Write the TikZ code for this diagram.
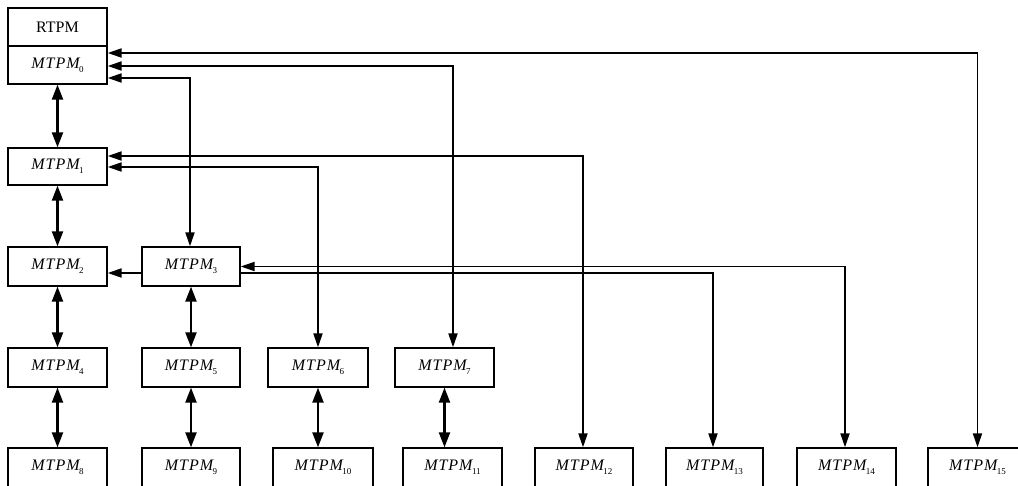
\documentclass[tikz,border=0pt]{standalone}
\usepackage{fontspec}
\setmainfont{Liberation Serif}
\usetikzlibrary{arrows.meta,backgrounds}
\newcommand\mtpm[1]{{\itshape\addfontfeature{LetterSpace=6}MTPM}\kern-0.5pt\raisebox{-0.5ex}{\fontsize{9}{10}\selectfont #1}}
\begin{document}
\begin{tikzpicture}[x=1pt,y=1pt,
  pbox/.style={draw, line width=1.3pt, fill=white, minimum width=99pt, minimum height=38pt, inner sep=0pt, font=\fontsize{16}{19}\selectfont},
  conn/.style={line width=1.9pt, {Triangle[length=14pt,width=9pt]}-{Triangle[length=14pt,width=9pt]}},
  vconn/.style={line width=2.2pt, {Triangle[length=15pt,width=11pt]}-{Triangle[length=15pt,width=11pt]}}]
\useasboundingbox (0,0) rectangle (1018,-486);
% row 0
\node[pbox] (r) at (57.5,-27) {RTPM};
\node[pbox] (m0) at (57.5,-65) {\mtpm{0}};
% row 1
\node[pbox, minimum height=37pt] (m1) at (57.5,-166.5) {\mtpm{1}};
% row 2
\node[pbox, minimum height=39pt] (m2) at (57.5,-266.5) {\mtpm{2}};
\node[pbox, minimum height=39pt, minimum width=98pt] (m3) at (191,-266.5) {\mtpm{3}};
% row 3
\node[pbox, minimum height=39pt] (m4) at (57.5,-367.5) {\mtpm{4}};
\node[pbox, minimum height=39pt, minimum width=98pt] (m5) at (191,-367.5) {\mtpm{5}};
\node[pbox, minimum height=39pt, minimum width=100pt] (m6) at (318,-367.5) {\mtpm{6}};
\node[pbox, minimum height=39pt] (m7) at (444.5,-367.5) {\mtpm{7}};
% row 4
\node[pbox, minimum height=39pt] (m8) at (57.5,-467.5) {\mtpm{8}};
\node[pbox, minimum height=39pt, minimum width=98pt] (m9) at (191,-467.5) {\mtpm{9}};
\node[pbox, minimum height=39pt, minimum width=100pt] (m10) at (323,-467.5) {\mtpm{10}};
\node[pbox, minimum height=39pt] (m11) at (452.5,-467.5) {\mtpm{11}};
\node[pbox, minimum height=39pt, minimum width=98pt] (m12) at (584,-467.5) {\mtpm{12}};
\node[pbox, minimum height=39pt, minimum width=97pt] (m13) at (714.5,-467.5) {\mtpm{13}};
\node[pbox, minimum height=39pt] (m14) at (846.5,-467.5) {\mtpm{14}};
\node[pbox, minimum height=39pt] (m15) at (977.5,-467.5) {\mtpm{15}};
\begin{pgfonlayer}{background}
% long connectors
\draw[conn] ([yshift=12pt]m0.east) -| (m15.north);
\draw[conn] ([yshift=-1pt]m0.east) -| ([xshift=8.5pt]m7.north);
\draw[conn] ([yshift=-13pt]m0.east) -| ([xshift=-1pt]m3.north);
\draw[conn] ([yshift=10.5pt]m1.east) -| ([xshift=-1pt]m12.north);
\draw[conn] ([yshift=-0.5pt]m1.east) -| (m6.north);
\draw[conn] ([yshift=0pt]m3.east) -| ([xshift=-1.5pt]m14.north);
\draw[conn] ([yshift=-6.5pt]m2.east) -| ([xshift=-1.5pt]m13.north);
\end{pgfonlayer}
% vertical double arrows
\draw[vconn] (m0.south) -- (m1.north);
\draw[vconn] (m1.south) -- (m2.north);
\draw[vconn] (m2.south) -- (m4.north);
\draw[vconn] (m3.south) -- (m5.north);
\draw[vconn] (m4.south) -- (m8.north);
\draw[vconn] (m5.south) -- (m9.north);
\draw[vconn] (m6.south) -- (m6.south |- m10.north);
\draw[vconn] (m7.south) -- (m7.south |- m11.north);
\end{tikzpicture}
\end{document}
